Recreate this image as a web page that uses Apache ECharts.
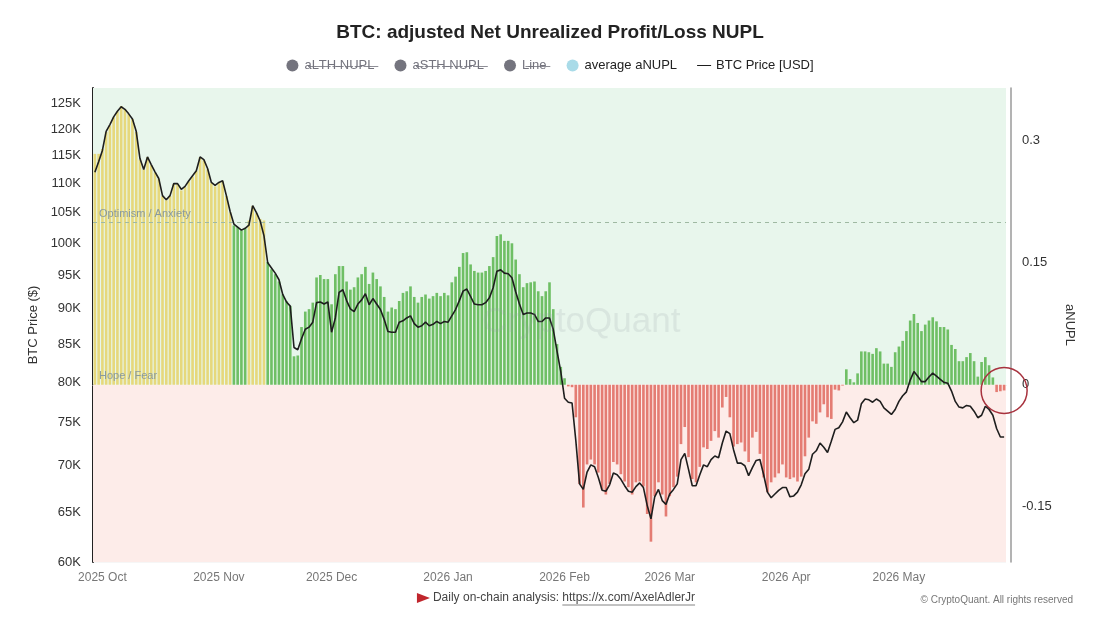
<!DOCTYPE html>
<html>
<head>
<meta charset="utf-8">
<script src="https://cdn.jsdelivr.net/npm/echarts@6/dist/echarts.min.js"></script>
<style>
  html, body { margin: 0; padding: 0; background: #fff; }
  #chart { width: 1100px; height: 619px; }
</style>
</head>
<body>
<div id="chart"></div>
<script>
// daily data, first day 2025-09-29
const startDate = '2025-09-29'

// BTC price in thousands of USD
const btcPrice = [
  112.0, 113.9, 116.0, 119.6, 120.9, 122.4, 123.5, 124.4, 123.9, 123.0,
  122.0, 119.6, 114.5, 112.5, 114.8, 113.4, 112.1, 110.9, 107.9, 107.2,
  107.9, 110.0, 110.0, 109.0, 109.5, 110.5, 111.4, 112.3, 114.8, 114.3,
  112.7, 110.2, 109.7, 110.2, 110.5, 107.9, 105.2, 103.1, 102.6, 102.1,
  102.4, 102.9, 106.2, 105.0, 103.6, 101.2, 96.9, 96.1, 95.3, 94.3,
  92.1, 91.0, 90.4, 84.6, 84.3, 85.8, 87.1, 87.4, 88.1, 90.9,
  91.0, 90.7, 91.0, 86.7, 88.7, 92.4, 92.8, 91.2, 90.0, 89.6,
  90.7, 91.3, 92.2, 90.6, 91.5, 90.7, 89.9, 88.5, 86.8, 86.7,
  86.7, 88.1, 88.3, 88.7, 89.0, 87.9, 87.4, 87.6, 88.1, 87.6,
  87.8, 88.2, 87.9, 88.2, 88.1, 89.0, 89.9, 91.2, 92.6, 92.9,
  91.8, 90.7, 90.6, 90.6, 90.9, 91.6, 93.1, 95.6, 95.8, 95.3,
  95.2, 94.6, 92.5, 90.7, 89.2, 89.4, 89.4, 89.2, 88.2, 88.2,
  88.7, 88.7, 87.1, 84.1, 81.4, 78.0, 77.5, 77.4, 72.9, 68.0,
  67.4, 69.3, 70.1, 69.9, 68.7, 67.3, 67.2, 67.9, 69.2, 69.0,
  68.5, 67.8, 67.2, 67.1, 67.7, 68.1, 67.6, 65.7, 64.3, 66.6,
  67.4, 66.2, 65.8, 66.9, 67.4, 68.0, 70.7, 71.4, 69.6, 67.8,
  67.8, 69.0, 70.1, 69.9, 70.7, 71.1, 70.9, 72.6, 74.0, 73.7,
  71.8, 70.3, 70.3, 70.0, 68.9, 69.8, 70.6, 70.7, 69.0, 67.1,
  66.5, 66.9, 67.3, 67.6, 67.6, 66.6, 66.7, 67.1, 67.9, 69.1,
  69.6, 71.3, 71.7, 72.6, 72.1, 71.5, 72.8, 74.2, 74.4, 75.1,
  76.3, 75.6, 75.0, 75.3, 77.3, 77.9, 77.8, 77.5, 77.9, 77.6,
  76.8, 76.4, 76.0, 76.6, 77.6, 78.3, 78.8, 80.3, 81.4, 80.8,
  80.1, 80.1, 80.7, 81.2, 80.8, 80.4, 80.0, 79.9, 78.9, 77.6,
  76.9, 76.8, 77.1, 77.0, 76.4, 75.6, 75.9, 77.0, 76.6, 75.9,
  74.3, 73.3, 73.3
]

// average aNUPL
const aNupl = [
  0.284, 0.284, 0.290, 0.311, 0.319, 0.329, 0.336, 0.343, 0.339, 0.333,
  0.327, 0.311, 0.277, 0.265, 0.280, 0.270, 0.261, 0.253, 0.232, 0.227,
  0.232, 0.247, 0.247, 0.239, 0.243, 0.250, 0.256, 0.263, 0.280, 0.276,
  0.265, 0.248, 0.244, 0.248, 0.250, 0.232, 0.212, 0.196, 0.194, 0.190,
  0.192, 0.202, 0.220, 0.211, 0.204, 0.202, 0.151, 0.142, 0.136, 0.127,
  0.111, 0.103, 0.097, 0.035, 0.036, 0.071, 0.090, 0.093, 0.101, 0.132,
  0.135, 0.130, 0.130, 0.099, 0.136, 0.146, 0.146, 0.127, 0.117, 0.120,
  0.132, 0.136, 0.145, 0.124, 0.138, 0.130, 0.121, 0.108, 0.090, 0.095,
  0.093, 0.103, 0.113, 0.115, 0.121, 0.108, 0.101, 0.108, 0.111, 0.106,
  0.109, 0.113, 0.109, 0.113, 0.110, 0.126, 0.133, 0.145, 0.162, 0.163,
  0.148, 0.140, 0.138, 0.138, 0.140, 0.146, 0.157, 0.183, 0.185, 0.177,
  0.177, 0.174, 0.154, 0.136, 0.120, 0.125, 0.126, 0.127, 0.115, 0.109,
  0.115, 0.126, 0.093, 0.050, 0.022, 0.008, -0.002, -0.003, -0.040, -0.122,
  -0.151, -0.098, -0.092, -0.098, -0.108, -0.129, -0.135, -0.122, -0.095, -0.098,
  -0.110, -0.119, -0.126, -0.135, -0.120, -0.119, -0.125, -0.159, -0.193, -0.137,
  -0.120, -0.135, -0.162, -0.137, -0.126, -0.113, -0.073, -0.052, -0.089, -0.116,
  -0.120, -0.101, -0.077, -0.079, -0.069, -0.057, -0.065, -0.028, -0.015, -0.040,
  -0.076, -0.073, -0.071, -0.082, -0.095, -0.065, -0.058, -0.085, -0.114, -0.132,
  -0.120, -0.114, -0.109, -0.098, -0.114, -0.116, -0.114, -0.119, -0.113, -0.088,
  -0.065, -0.045, -0.048, -0.034, -0.024, -0.040, -0.042, -0.006, -0.007, -0.001,
  0.019, 0.007, 0.003, 0.014, 0.041, 0.041, 0.040, 0.038, 0.045, 0.041,
  0.026, 0.026, 0.022, 0.040, 0.047, 0.054, 0.066, 0.079, 0.087, 0.076,
  0.066, 0.074, 0.079, 0.083, 0.078, 0.071, 0.071, 0.068, 0.049, 0.044,
  0.029, 0.029, 0.034, 0.039, 0.029, 0.010, 0.028, 0.034, 0.024, 0.009,
  -0.009, -0.008, -0.007
]

const priceTicks = [60, 65, 70, 75, 80, 85, 90, 95, 100, 105, 110, 115, 120, 125]
const nuplTicks = [-0.15, 0, 0.15, 0.3]
const zoneLines = [
  { name: 'Optimism / Anxiety', value: 0.2 },
  { name: 'Hope / Fear', value: 0 }
]
const hiddenSeries = ['aLTH NUPL', 'aSTH NUPL', 'Line']
const monthNames = ['Jan', 'Feb', 'Mar', 'Apr', 'May', 'Jun', 'Jul', 'Aug', 'Sep', 'Oct', 'Nov', 'Dec']

// category dates
const dates = []
const t0 = Date.parse(startDate + 'T00:00:00Z')
for (let i = 0; i < btcPrice.length; i++) {
  dates.push(new Date(t0 + i * 86400000).toISOString().slice(0, 10))
}
const isMonthStart = (idx, val) => val.slice(8) === '01'
const monthLabel = val => val.slice(0, 4) + ' ' + monthNames[+val.slice(5, 7) - 1]
const strike = s => s.split('').map(c => c + '\u0336').join('')

const FONT = 'Liberation Sans, Arial, sans-serif'
const barColor = v => (v >= 0.2 ? '#e6d87c' : v >= 0 ? '#6fbf65' : '#e47c73')

// footer placement
const ctx = document.createElement('canvas').getContext('2d')
ctx.font = '12px ' + FONT
const footA = 'Daily on-chain analysis: '
const footB = 'https://x.com/AxelAdlerJr'
const wA = ctx.measureText(footA).width
const wB = ctx.measureText(footB).width
const footX = 556 - (16 + wA + wB) / 2

const chart = echarts.init(document.getElementById('chart'))
chart.setOption({
  backgroundColor: '#fff',
  textStyle: { fontFamily: FONT },
  animation: false,
  title: {
    text: 'BTC: adjusted Net Unrealized Profit/Loss NUPL',
    left: 'center',
    top: 18,
    textStyle: { fontSize: 19, fontWeight: 'bold', color: '#222', fontFamily: FONT }
  },
  legend: {
    top: 54,
    left: 'center',
    itemGap: 20,
    itemWidth: 14,
    itemHeight: 12,
    inactiveColor: '#74747e',
    textStyle: { fontSize: 13, color: '#222' },
    data: [
      { name: 'aLTH NUPL', icon: 'circle' },
      { name: 'aSTH NUPL', icon: 'circle' },
      { name: 'Line', icon: 'circle' },
      { name: 'average aNUPL', icon: 'circle', itemStyle: { color: '#a9dbe8' } },
      { name: 'BTC Price [USD]', icon: 'path://M0,0H20V1.4H0Z', itemStyle: { color: '#1e1e1e' } }
    ],
    selected: { 'aLTH NUPL': false, 'aSTH NUPL': false, 'Line': false },
    formatter: name => (hiddenSeries.includes(name) ? strike(name) : name)
  },
  grid: { left: 93, right: 94, top: 88, bottom: 57 },
  xAxis: {
    type: 'category',
    data: dates,
    axisLine: { lineStyle: { color: '#dcdcdc' } },
    axisTick: { interval: isMonthStart, alignWithLabel: true, length: 5, lineStyle: { color: '#cfcfcf' } },
    axisLabel: { interval: isMonthStart, formatter: monthLabel, color: '#777', fontSize: 12, margin: 10 },
    splitLine: { show: false }
  },
  yAxis: [
    {
      type: 'log',
      min: 60,
      max: 128.2,
      position: 'left',
      name: 'BTC Price ($)',
      nameLocation: 'middle',
      nameGap: 52,
      nameTextStyle: { fontSize: 13, color: '#333' },
      axisLine: { show: true, lineStyle: { color: '#222', width: 2 } },
      axisTick: { show: false, customValues: priceTicks },
      axisLabel: { customValues: priceTicks, formatter: v => Math.round(v) + 'K', color: '#333', fontSize: 13, margin: 12 },
      splitLine: { show: true, lineStyle: { color: 'rgba(0,0,0,0.035)' } }
    },
    {
      type: 'value',
      min: -0.218,
      max: 0.365,
      position: 'right',
      offset: 5,
      name: 'aNUPL',
      nameLocation: 'middle',
      nameRotate: -90,
      nameGap: 52,
      nameTextStyle: { fontSize: 13, color: '#333' },
      axisLine: { show: true, lineStyle: { color: '#9a9a9a', width: 1.5 } },
      axisTick: { show: false, customValues: nuplTicks },
      axisLabel: { customValues: nuplTicks, color: '#333', fontSize: 13, margin: 11 },
      splitLine: { show: false }
    }
  ],
  series: [
    ...hiddenSeries.map(name => ({ name, type: 'line', yAxisIndex: 1, data: [] })),
    {
      name: 'average aNUPL',
      type: 'bar',
      yAxisIndex: 1,
      data: aNupl,
      barCategoryGap: '30%',
      z: 2,
      itemStyle: { color: p => barColor(p.value) },
      markArea: {
        silent: true,
        data: [
          [{ yAxis: 0, itemStyle: { color: '#e8f6ec' } }, { yAxis: 0.365 }],
          [{ yAxis: -0.218, itemStyle: { color: '#fdece9' } }, { yAxis: 0 }]
        ]
      },
      markLine: {
        silent: true,
        symbol: ['none', 'none'],
        data: zoneLines.map(z => ({
          yAxis: z.value,
          label: { formatter: z.name },
          lineStyle: z.value
            ? { type: [4, 4], color: '#9fb9a2', width: 1 }
            : { color: 'rgba(0,0,0,0)', width: 0 }
        })),
        label: { position: 'insideStartTop', color: '#8a9a9c', fontSize: 11, distance: [6, 3] }
      },
      markPoint: {
        silent: true,
        symbol: 'circle',
        symbolSize: 46,
        label: { show: false },
        itemStyle: { color: 'rgba(0,0,0,0)', borderColor: '#a8323e', borderWidth: 1.5 },
        data: [{ coord: [dates[dates.length - 1], aNupl[aNupl.length - 1]] }]
      }
    },
    {
      name: 'BTC Price [USD]',
      type: 'line',
      yAxisIndex: 0,
      data: btcPrice,
      symbol: 'none',
      z: 5,
      color: '#1e1e1e',
      lineStyle: { color: '#1e1e1e', width: 1.6 }
    }
  ],
  graphic: [
    {
      type: 'text',
      left: 482,
      top: 305,
      z: 10,
      silent: true,
      style: { text: 'CryptoQuant', font: '500 35px ' + FONT, fill: 'rgba(150,160,168,0.18)' }
    },
    {
      type: 'polygon',
      silent: true,
      shape: { points: [[footX, 593], [footX + 13, 598], [footX, 603]] },
      style: { fill: '#c0262d' }
    },
    {
      type: 'text',
      x: footX + 16,
      y: 598,
      silent: true,
      style: { text: footA, font: '12px ' + FONT, fill: '#444', verticalAlign: 'middle' }
    },
    {
      type: 'text',
      x: footX + 16 + wA,
      y: 598,
      silent: true,
      style: { text: footB, font: '12px ' + FONT, fill: '#444', verticalAlign: 'middle' }
    },
    {
      type: 'line',
      silent: true,
      shape: { x1: footX + 16 + wA, y1: 605, x2: footX + 16 + wA + wB, y2: 605 },
      style: { stroke: '#666', lineWidth: 0.8 }
    },
    {
      type: 'text',
      right: 27,
      top: 595,
      silent: true,
      style: { text: '\u00a9 CryptoQuant. All rights reserved', font: '10px ' + FONT, fill: '#777' }
    }
  ]
})
window.addEventListener('resize', () => chart.resize())
</script>
</body>
</html>
